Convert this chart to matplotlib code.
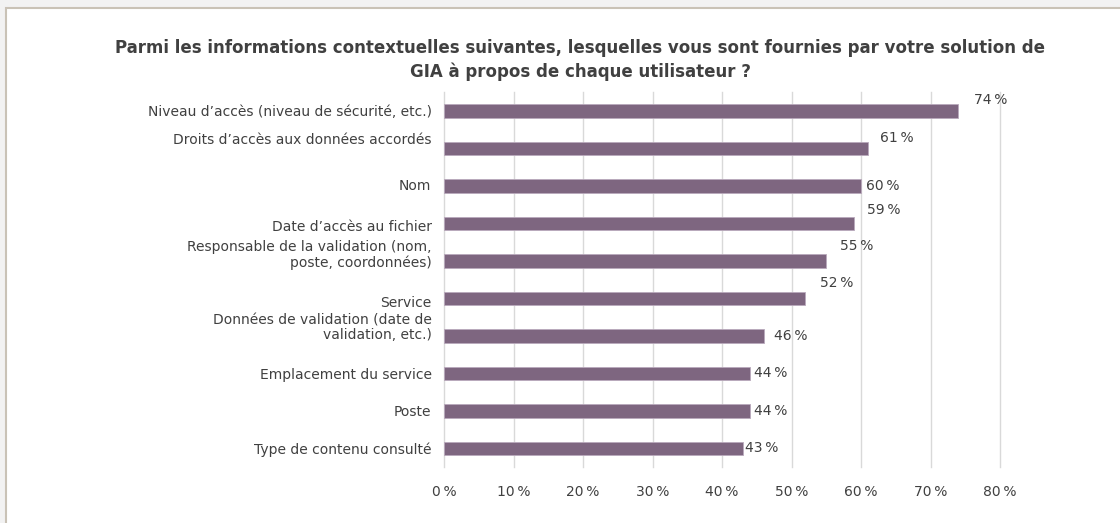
import numpy as np
import matplotlib
matplotlib.use("Agg")
import matplotlib.pyplot as plt
from matplotlib.patches import Rectangle
from matplotlib.transforms import ScaledTranslation

# data (top to bottom as shown)
categories = [
    "Niveau d\u2019accès (niveau de sécurité, etc.)",
    "Droits d\u2019accès aux données accordés",
    "Nom",
    "Date d\u2019accès au fichier",
    "Responsable de la validation (nom,\nposte, coordonnées)",
    "Service",
    "Données de validation (date de\nvalidation, etc.)",
    "Emplacement du service",
    "Poste",
    "Type de contenu consulté",
]
values = [74, 61, 60, 59, 55, 52, 46, 44, 44, 43]
x_ticks = [0, 10, 20, 30, 40, 50, 60, 70, 80]

title = ("Parmi les informations contextuelles suivantes, lesquelles vous sont fournies par votre solution de\n"
         "GIA à propos de chaque utilisateur ?")

# label nudges in pixels (Excel placed some labels oddly)
tick_dy = [0, 10, 1, -2, 8, -3, 10, 0, 0, 0]
val_dx = [16, 12, 5, 13, 14, 15, 10, 4, 4, 2]
val_dy = [11, 10, 0, 13, 15, 15, 0, 0, 0, 0]

bar_color = "#7e6680"
text_color = "#404040"
plt.rcParams['font.family'] = ['DejaVu Sans']

fig = plt.figure(figsize=(11.2, 5.23), dpi=100, facecolor="#f2f2f2")
# white chart area with thin frame on left/top
fig.patches.append(Rectangle((6 / 1120, -0.01), 1.02, 1 - 8 / 523 + 0.01, transform=fig.transFigure,
                             facecolor="white", edgecolor="#c9c2b6", lw=1.5, zorder=-10))

ax = fig.add_axes([444 / 1120, 1 - 467 / 523, 556 / 1120, 375 / 523])
ax.set_facecolor("none")
y = np.arange(len(categories))
ax.barh(y, values, height=0.36, color=bar_color, edgecolor="#b9a9bc", lw=0.6, zorder=2)
ax.set_ylim(len(categories) - 0.5, -0.5)
ax.set_xlim(0, 80)
ax.set_xticks(x_ticks)
ax.set_xticklabels([f"{t}\u202f%" for t in x_ticks], fontsize=10, color=text_color)
ax.set_yticks(y)
ax.set_yticklabels(categories, fontsize=10, color=text_color, linespacing=1.1)
ax.tick_params(axis="both", length=0)
ax.tick_params(axis="x", pad=13)
ax.tick_params(axis="y", pad=9)
ax.grid(axis="x", color="#d9d9d9", lw=1, zorder=1)
for gl in ax.get_xgridlines():
    gl.set_clip_on(False)
for s in ax.spines.values():
    s.set_visible(False)

for lab, dy in zip(ax.get_yticklabels(), tick_dy):
    lab.set_transform(lab.get_transform() + ScaledTranslation(0, dy / 100, fig.dpi_scale_trans))

for i, v in enumerate(values):
    off = ScaledTranslation(val_dx[i] / 100, val_dy[i] / 100, fig.dpi_scale_trans)
    ax.text(v, i, f"{v}\u202f%", fontsize=10, color=text_color, ha="left", va="center",
            transform=ax.transData + off)

fig.text(580 / 1120, 1 - 60 / 523, title, ha="center", va="center", fontsize=12,
         fontweight="bold", color=text_color, linespacing=1.35)

fig.savefig("out.png", dpi=100, facecolor=fig.get_facecolor())
